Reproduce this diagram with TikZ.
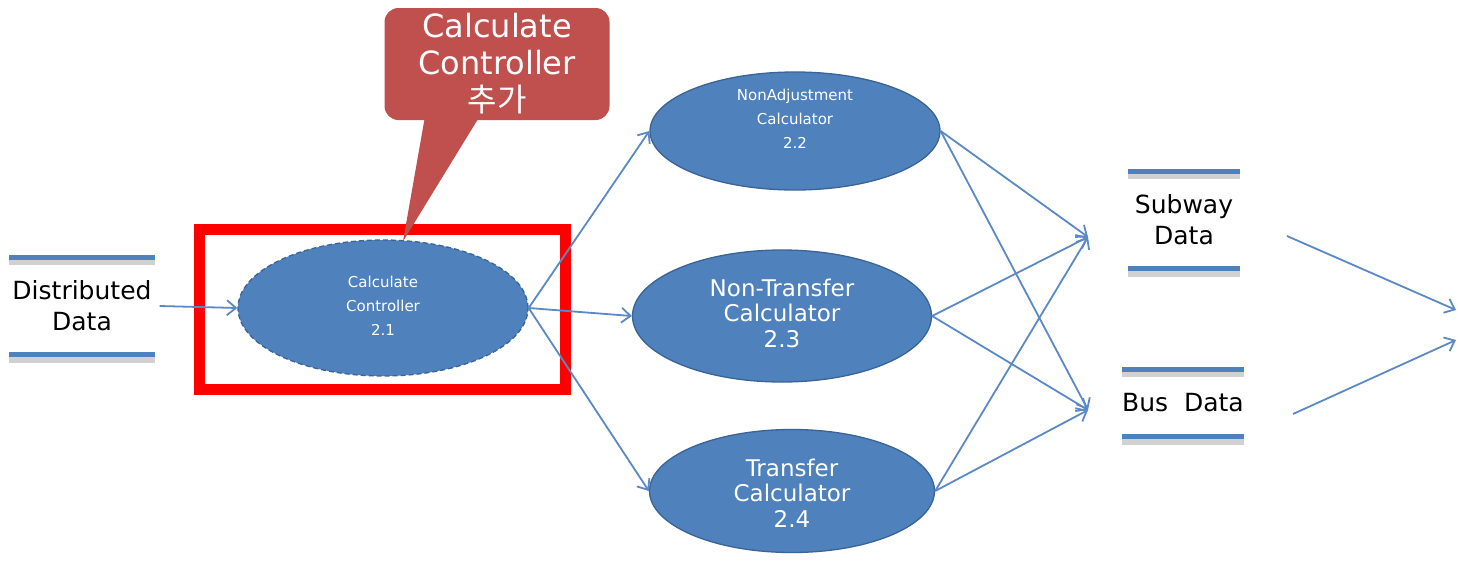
\documentclass[tikz,border=0pt]{standalone}
\usepackage{fontspec}
\setmainfont{DejaVu Sans}
\newfontfamily\krfont{Noto Sans CJK KR}
\usetikzlibrary{arrows.meta,shapes.geometric}
\definecolor{obBlue}{HTML}{4F81BD}
\definecolor{obDark}{HTML}{3A6396}
\definecolor{obRed}{HTML}{C0504D}
\definecolor{obLine}{HTML}{5A89C4}
\begin{document}
\begin{tikzpicture}[x=1pt,y=-1pt,
  proc/.style={ellipse, fill=obBlue, draw=obDark, line width=1.3pt, inner sep=0pt},
  lbl/.style={text=white, align=center, inner sep=0pt},
  smalltxt/.style={font=\fontsize{15}{24}\selectfont},
  bigtxt/.style={font=\fontsize{23}{25.5}\selectfont},
  store/.style={inner sep=0pt, align=center, font=\fontsize{25}{31}\selectfont},
  flow/.style={draw=obLine, line width=1.8pt, -{Straight Barb[length=9pt,width=15pt,line width=1.8pt]}},
  bar/.style={draw=obBlue, line width=5pt},
  barshadow/.style={draw=black!18, line width=6pt},
]
\useasboundingbox (0,0) rectangle (1458,563);

% highlight frame
\node[draw=red, line width=11pt, minimum width=366pt, minimum height=160pt, inner sep=0pt] (hl) at (382,309) {};

% data stores
\node[store, minimum width=145pt, minimum height=97pt] (dist) at (82,306) {Distributed\\Data};
\node[store, minimum width=112pt, minimum height=97pt] (subway) at (1184,220) {Subway\\Data};
\node[store, minimum width=120pt, minimum height=67pt] (bus) at (1183,403) {Bus~~Data};
\foreach \s in {dist,subway,bus}{
  \draw[barshadow] ([yshift=-5pt]\s.north west) -- ([yshift=-5pt]\s.north east);
  \draw[barshadow] ([yshift=-5pt]\s.south west) -- ([yshift=-5pt]\s.south east);
  \draw[bar] (\s.north west) -- (\s.north east);
  \draw[bar] (\s.south west) -- (\s.south east);
}

% processes
\node[proc, dashed, dash pattern=on 5pt off 3pt, minimum width=290pt, minimum height=136pt,
  label={[lbl, smalltxt, yshift=2pt]center:{Calculate\\Controller\\2.1}}] (c21) at (383,308) {};
\node[proc, minimum width=290pt, minimum height=118pt,
  label={[lbl, smalltxt, yshift=12pt]center:{NonAdjustment\\Calculator\\2.2}}] (c22) at (795,131) {};
\node[proc, minimum width=299pt, minimum height=132pt,
  label={[lbl, bigtxt, yshift=3pt]center:{Non-Transfer\\Calculator\\2.3}}] (c23) at (782,316) {};
\node[proc, minimum width=285pt, minimum height=123pt,
  label={[lbl, bigtxt, yshift=-2pt]center:{Transfer\\Calculator\\2.4}}] (c24) at (792,491) {};

% free connector ends
\coordinate (sIn) at (1088,237);
\coordinate (bIn) at (1088,410);
\coordinate (sOut) at (1287,236);
\coordinate (bOut) at (1293,414);
\coordinate (rTop) at (1456,310);
\coordinate (rBot) at (1456,340);

% connectors
\draw[flow] ([xshift=5pt]dist.east) -- (c21.west);
\draw[flow] (c21.east) -- (c22.west);
\draw[flow] (c21.east) -- (c23.west);
\draw[flow] (c21.east) -- (c24.west);
\foreach \c in {c22,c23,c24}{
  \draw[flow] (\c.east) -- (sIn);
  \draw[flow] (\c.east) -- (bIn);
}
\draw[flow] (sOut) -- (rTop);
\draw[flow] (bOut) -- (rBot);

% callout
\node[fill=obRed, rounded corners=14pt, minimum width=225pt, minimum height=112pt, inner sep=0pt,
  text=white, align=center, font=\fontsize{32}{37}\selectfont] (call) at (497,64)
  {Calculate\\Controller\\{\krfont 추가}};
\fill[obRed] ([xshift=40pt]call.south west) -- ([xshift=93pt]call.south west) -- ([xshift=20pt,yshift=-2pt]c21.north) -- cycle;
\end{tikzpicture}
\end{document}
